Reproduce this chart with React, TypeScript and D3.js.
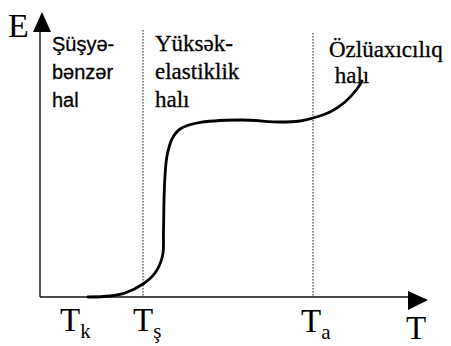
import React from "react";
import * as d3 from "d3";

// Thermomechanical curve: deformation E versus temperature T
const curveT = [48, 70, 85, 103, 115, 122.5, 123.5, 124, 125, 127, 132, 140, 157, 200, 240, 260, 273, 290, 305, 317, 322];
const curveE = [0, 1, 4, 13, 24, 41, 66, 96, 121, 141, 158, 168, 174, 177, 175, 176, 179, 185, 195, 208, 216];

// Transition temperatures (vertical guide lines) and their labels
const transitionT = [103, 273];
const tickLabels = [
  { t: 30, main: "T", sub: "k" },
  { t: 103, main: "T", sub: "ş" },
  { t: 271, main: "T", sub: "a" },
];

// Region descriptions
const regionLabels = [
  { t: 12, lines: ["Şüşyə-", "bənzər", "hal"], sans: true },
  { t: 115, lines: ["Yüksək-", "elastiklik", "halı"], sans: false },
  { t: 289, lines: ["Özlüaxıcılıq", " halı"], sans: false },
];

const W = 451;
const H = 346;
const x0 = 40;
const y0 = 297;

export default function App() {
  const x = d3.scaleLinear().domain([0, 390]).range([x0, x0 + 390]);
  const y = d3.scaleLinear().domain([0, 284]).range([y0, y0 - 284]);

  const pts: [number, number][] = curveT.map((t, i) => [t, curveE[i]]);
  const line = d3
    .line<[number, number]>()
    .x((d) => x(d[0]))
    .y((d) => y(d[1]))
    .curve(d3.curveCatmullRom.alpha(0.5));

  const serif = "Liberation Serif";
  const sans = "Liberation Sans";

  return (
    <svg
      width={W}
      height={H}
      style={{ position: "absolute", left: 0, top: 0, background: "#fff" }}
    >
      {/* transition guides */}
      {transitionT.map((t, i) => (
        <line
          key={i}
          x1={x(t)}
          x2={x(t)}
          y1={i === 0 ? 30 : 33}
          y2={y0}
          stroke="#222"
          strokeWidth={1}
          strokeDasharray="1.6,1.4"
        />
      ))}

      {/* axes */}
      <line x1={x0} x2={x0} y1={y0} y2={28} stroke="#111" strokeWidth={1.4} />
      <path d={`M${x0 + 2},12 L${x0 + 11},32 L${x0 - 7},32 Z`} fill="#000" />
      <line x1={x0} x2={412} y1={y0} y2={y0} stroke="#111" strokeWidth={1.6} />
      <path d={`M428,${y0 + 3} L408,${y0 - 6} L408,${y0 + 13} Z`} fill="#000" />

      {/* curve */}
      <path d={line(pts) ?? ""} fill="none" stroke="#000" strokeWidth={2.8} strokeLinecap="round" />

      {/* axis titles */}
      <text x={8} y={37} fontFamily={serif} fontSize={34} fill="#000">E</text>
      <text x={406} y={339} fontFamily={serif} fontSize={33} fill="#000">T</text>

      {/* temperature labels */}
      {tickLabels.map((l, i) => (
        <text
          key={i}
          x={x(l.t) - 10}
          y={[331, 331, 332][i]}
          fontFamily={serif}
          fontSize={33}
          fill="#000"
        >
          {l.main}
          <tspan fontSize={21} dy={7}>{l.sub}</tspan>
        </text>
      ))}

      {/* region labels */}
      {regionLabels.map((r, i) =>
        r.lines.map((s, j) => (
          <text
            key={`${i}-${j}`}
            x={x(r.t)}
            y={(i === 2 ? 57 : 51) + j * (i === 2 ? 26 : 28)}
            fontFamily={r.sans ? sans : serif}
            fontSize={r.sans ? 20 : 23}
            fill="#000"
            stroke="#000"
            strokeWidth={0.3}
            style={{ whiteSpace: "pre" }}
          >
            {s}
          </text>
        ))
      )}
    </svg>
  );
}
